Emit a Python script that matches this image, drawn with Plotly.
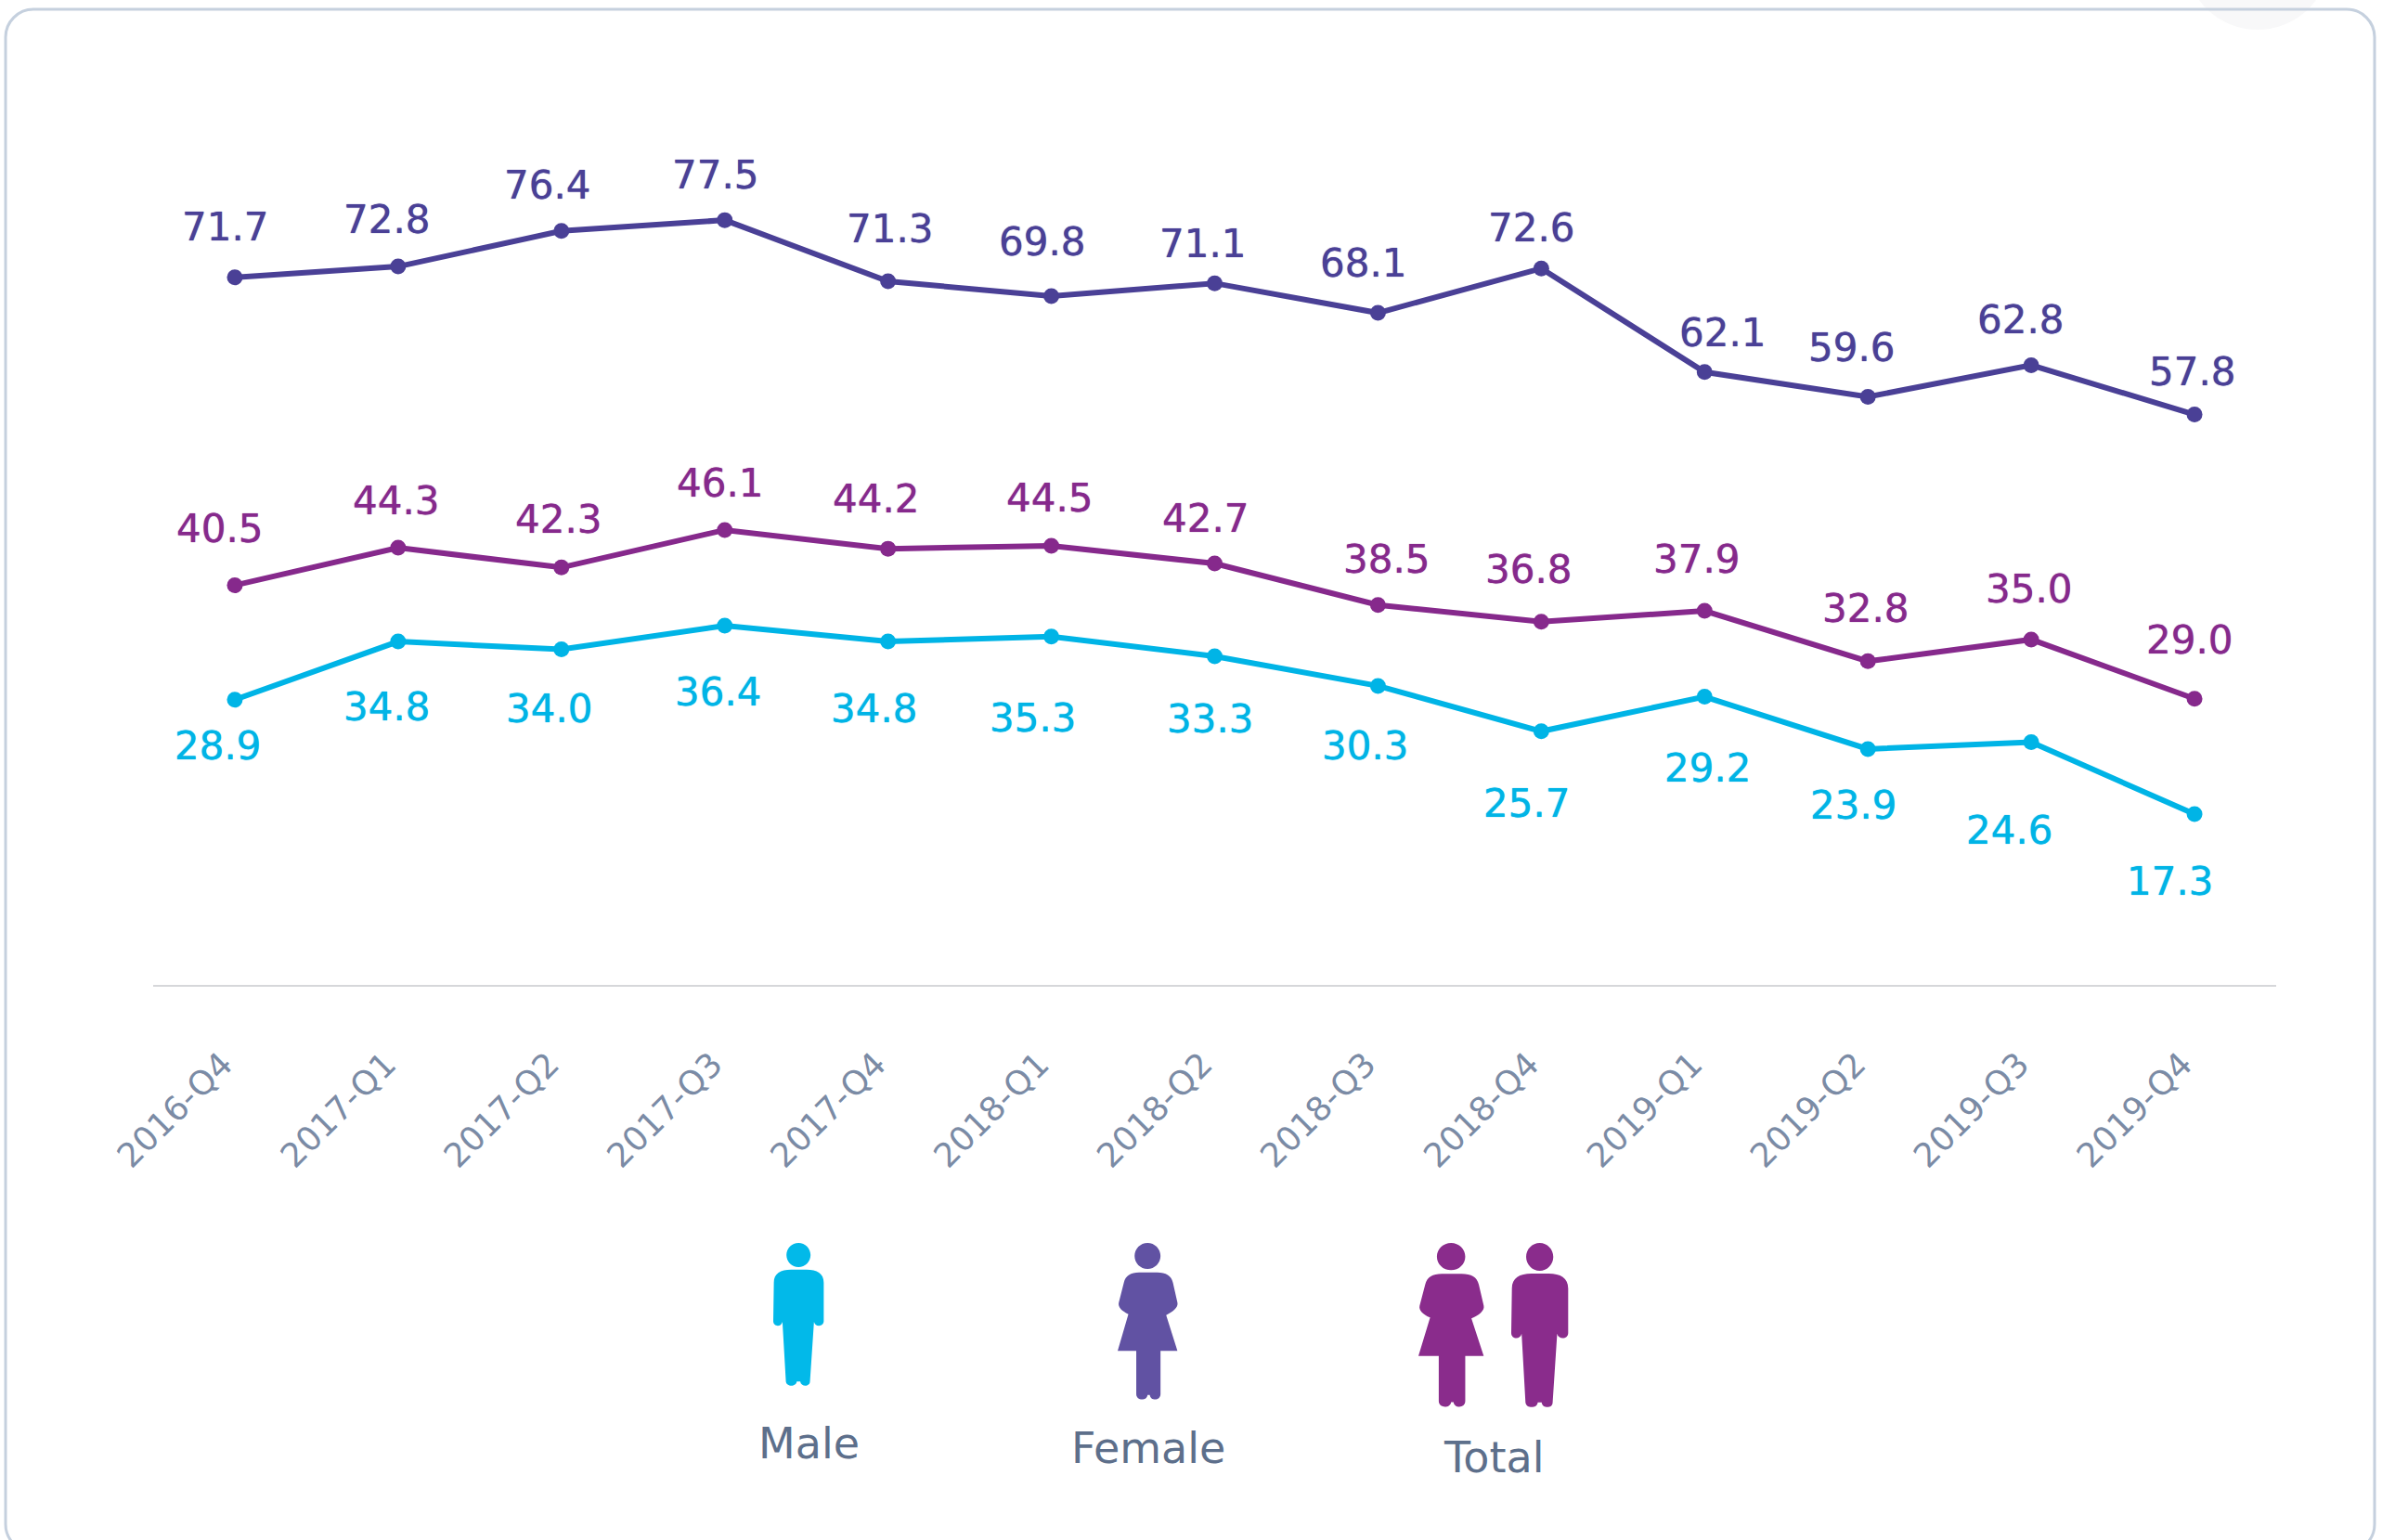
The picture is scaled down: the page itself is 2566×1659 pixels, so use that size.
import plotly.graph_objects as go

W, H = 2566, 1659
ML, MR, MT, MB = 165, 114, 100, 598

quarters = ["2016-Q4", "2017-Q1", "2017-Q2", "2017-Q3", "2017-Q4", "2018-Q1", "2018-Q2",
            "2018-Q3", "2018-Q4", "2019-Q1", "2019-Q2", "2019-Q3", "2019-Q4"]
female = [71.7, 72.8, 76.4, 77.5, 71.3, 69.8, 71.1, 68.1, 72.6, 62.1, 59.6, 62.8, 57.8]
total = [40.5, 44.3, 42.3, 46.1, 44.2, 44.5, 42.7, 38.5, 36.8, 37.9, 32.8, 35.0, 29.0]
male = [28.9, 34.8, 34.0, 36.4, 34.8, 35.3, 33.3, 30.3, 25.7, 29.2, 23.9, 24.6, 17.3]

# value-label nudges, in pixels (screen y down)
female_dx = [-10, -12, -15, -10, 2, -10, -13, -15, -10, 20, -17, -11, -2]
female_dy = [-54, -51, -49, -49, -57, -58, -43, -54, -44, -42, -53, -49, -46]
total_dx = [-16, -2, -3, -5, -13, -2, -10, 10, -13, -8, -2, -2, -5]
total_dy = [-61, -51, -52, -50, -54, -51, -49, -49, -56, -56, -57, -54, -63]
male_dx = [-18, -12, -13, -7, -15, -20, -5, -13, -15, 4, -15, -23, -26]
male_dy = [50, 70, 64, 71, 72, 88, 67, 65, 78, 77, 61, 95, 72]

C_FEMALE, C_TOTAL, C_MALE = "#4a4096", "#86298c", "#00b4e6"
ICON_FEMALE, ICON_TOTAL, ICON_MALE = "#6152a3", "#8a2c8c", "#02b9e9"
TEXT = "#5d6f8b"
FONT = "DejaVu Sans"

fig = go.Figure()
annots = []
for name, vals, col, dxs, dys in [("Female", female, C_FEMALE, female_dx, female_dy),
                                  ("Total", total, C_TOTAL, total_dx, total_dy),
                                  ("Male", male, C_MALE, male_dx, male_dy)]:
    fig.add_trace(go.Scatter(x=quarters, y=vals, name=name, mode="lines+markers",
                             line=dict(color=col, width=6),
                             marker=dict(color=col, size=17), showlegend=False))
    for q, v, dx, dy in zip(quarters, vals, dxs, dys):
        annots.append(dict(x=q, y=v, xref="x", yref="y", text=f"{v:.1f}", showarrow=False,
                           xshift=dx, yshift=-dy, xanchor="center", yanchor="middle",
                           font=dict(family=FONT, size=42, color=col, shadow=f"0 0 1px {col}")))


def px(x):
    return (x - ML) / (W - ML - MR)


def py(y):
    return 1 - (y - MT) / (H - MT - MB)


def pt(x, y):
    return f"{px(x):.5f},{py(y):.5f}"


def path(cmds, box, src):
    """cmds in source-box coordinates; box=(x0,y0,x1,y1) on the page, src the same in the source."""
    sx = (box[2] - box[0]) / (src[2] - src[0])
    sy = (box[3] - box[1]) / (src[3] - src[1])
    out = []
    for c in cmds:
        op, coords = c[0], c[1:]
        pts = [pt(box[0] + (coords[i] - src[0]) * sx, box[1] + (coords[i + 1] - src[1]) * sy)
               for i in range(0, len(coords), 2)]
        out.append(op + " " + " ".join(pts))
    return " ".join(out)


def ellipse(cx, cy, rx, ry):
    k = 0.5523
    return [("M", cx - rx, cy),
            ("C", cx - rx, cy - k * ry, cx - k * rx, cy - ry, cx, cy - ry),
            ("C", cx + k * rx, cy - ry, cx + rx, cy - k * ry, cx + rx, cy),
            ("C", cx + rx, cy + k * ry, cx + k * rx, cy + ry, cx, cy + ry),
            ("C", cx - k * rx, cy + ry, cx - rx, cy + k * ry, cx - rx, cy), ("Z",)]


MAN_SRC = (87, 117, 176, 579)
MAN = ellipse(131, 156, 21, 39) + [
    ("M", 88, 245), ("C", 88, 215, 100, 203, 118, 203), ("L", 145, 203),
    ("C", 163, 203, 175, 215, 175, 245), ("L", 175, 370), ("C", 175, 388, 160, 390, 158, 372),
    ("L", 151, 565), ("C", 151, 583, 135, 583, 134, 565), ("L", 128, 565),
    ("C", 127, 583, 110, 583, 109, 565), ("L", 103, 372), ("C", 101, 390, 87, 388, 87, 370), ("Z",)]
WOMAN_SRC = (692, 117, 799, 624)
WOMAN = ellipse(745, 159, 23, 42) + [
    ("M", 703, 245), ("C", 706, 222, 715, 212, 730, 212), ("L", 762, 212),
    ("C", 778, 212, 787, 222, 790, 245), ("L", 798, 310), ("C", 800, 325, 790, 340, 778, 350),
    ("L", 798, 466), ("L", 768, 466), ("L", 768, 605), ("C", 768, 628, 750, 628, 749, 608),
    ("L", 745, 608), ("C", 744, 628, 725, 628, 725, 605), ("L", 725, 466), ("L", 692, 466),
    ("L", 711, 347), ("C", 700, 338, 692, 325, 694, 310), ("Z",)]

shapes = []
# pale blob behind the card's top right corner
shapes.append(dict(type="path", xref="paper", yref="paper", layer="below",
                   path=path(ellipse(2432, -46, 78, 78), (0, 0, 1, 1), (0, 0, 1, 1)),
                   fillcolor="#f8f8f9", line=dict(width=0)))
# card outline, running off the bottom
L, T, R, B, RAD = 6, 10, 2558, 1672, 30
k = 0.45 * RAD
card = [("M", L + RAD, T), ("L", R - RAD, T), ("C", R - k, T, R, T + k, R, T + RAD),
        ("L", R, B - RAD), ("C", R, B - k, R - k, B, R - RAD, B), ("L", L + RAD, B),
        ("C", L + k, B, L, B - k, L, B - RAD), ("L", L, T + RAD), ("C", L, T + k, L + k, T, L + RAD, T), ("Z",)]
shapes.append(dict(type="path", xref="paper", yref="paper", layer="below",
                   path=path(card, (0, 0, 1, 1), (0, 0, 1, 1)),
                   fillcolor="rgba(0,0,0,0)", line=dict(color="#c5d0de", width=3)))
for cmds, src, box, col in [(MAN, MAN_SRC, (833, 1339, 888, 1493), ICON_MALE),
                            (WOMAN, WOMAN_SRC, (1204, 1339, 1269, 1508), ICON_FEMALE),
                            (WOMAN, WOMAN_SRC, (1528, 1339, 1599, 1516), ICON_TOTAL),
                            (MAN, MAN_SRC, (1628, 1339, 1690, 1516), ICON_TOTAL)]:
    shapes.append(dict(type="path", xref="paper", yref="paper",
                       path=path(cmds, box, src), fillcolor=col, line=dict(width=0)))

for label, x, y in [("Male", 871, 1555), ("Female", 1237, 1560), ("Total", 1609, 1570)]:
    annots.append(dict(x=px(x), y=py(y), xref="paper", yref="paper", text=label, showarrow=False,
                       xanchor="center", yanchor="middle", font=dict(family=FONT, size=46, color=TEXT)))

fig.update_layout(
    width=W, height=H, autosize=False,
    margin=dict(l=ML, r=MR, t=MT, b=MB, pad=0),
    paper_bgcolor="white", plot_bgcolor="white",
    showlegend=False, shapes=shapes, annotations=annots,
    xaxis=dict(type="category", categoryorder="array", categoryarray=quarters, range=[-0.5, 12.5],
               showgrid=False, zeroline=False, showline=True, linecolor="#d6d7da", linewidth=2,
               ticks="", tickangle=-45, ticklabelstandoff=48, ticklabelshift=-13,
               tickfont=dict(family=FONT, size=36, color="#7b8ba5")),
    yaxis=dict(range=[0, 90.4], visible=False, fixedrange=True),
)

fig.write_html("out.html", config={"displayModeBar": False},
               post_script="document.body.style.margin='0';document.body.style.overflow='hidden';")
